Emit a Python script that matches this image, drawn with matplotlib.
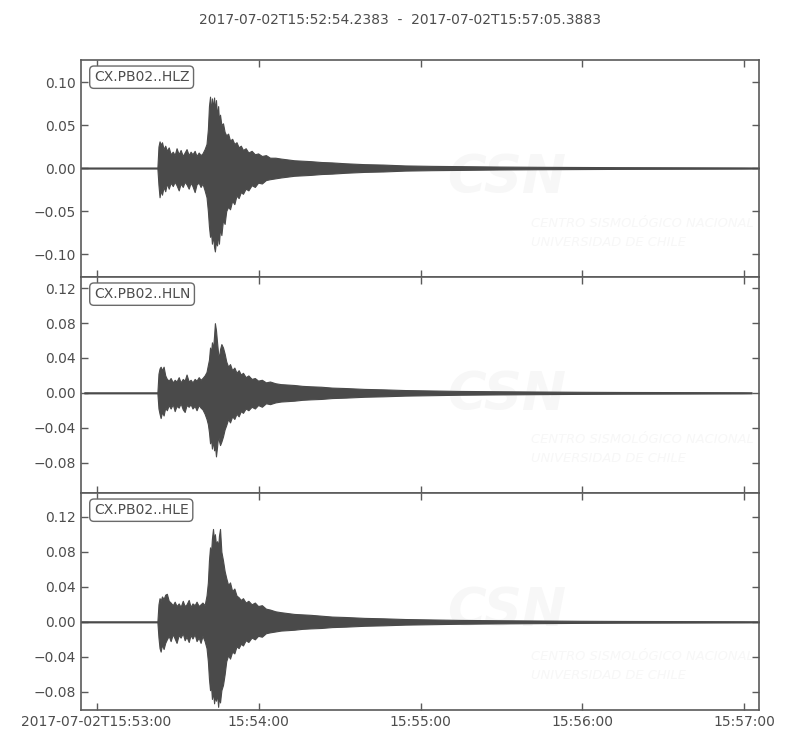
import datetime as dt
import numpy as np
import matplotlib
matplotlib.use("Agg")
import matplotlib.pyplot as plt

# ---------------- data ----------------
title_text = "2017-07-02T15:52:54.2383  -  2017-07-02T15:57:05.3883"
start_time = dt.datetime(2017, 7, 2, 15, 52, 54, 238300)
end_time = dt.datetime(2017, 7, 2, 15, 57, 5, 388300)

trace_labels = ["CX.PB02..HLZ", "CX.PB02..HLN", "CX.PB02..HLE"]

tick_clock = [(15, 53, 0), (15, 54, 0), (15, 55, 0), (15, 56, 0), (15, 57, 0)]
tick_labels = ["2017-07-02T15:53:00", "15:54:00", "15:55:00", "15:56:00", "15:57:00"]

# envelope node times (seconds after start)
t_nodes = [0.0, 28.3,
           28.7, 29.1, 29.5, 30.0, 30.6, 31.2, 31.8, 32.5, 33.2, 34.0, 34.7, 35.4, 36.2, 36.9,
           37.7, 38.4, 39.1, 39.9, 40.6, 41.3, 42.1, 42.8, 43.6, 44.3, 45.0, 45.8, 46.5,
           47.0, 47.4, 47.8, 48.1, 48.5, 48.9, 49.3, 49.6, 50.0, 50.4, 50.8, 51.1, 51.5, 52.0, 52.6, 53.2,
           53.8, 54.5, 55.2, 56.0, 56.8, 57.6, 58.4, 59.2, 60.0, 61.0, 62.0, 63.2, 64.4, 65.6, 67.0, 68.5, 70.0,
           72.0, 74.0, 76.5, 79.0, 82.0, 85.0, 89.0, 93.0, 98.0, 105.0, 112.0, 120.0, 130.0, 140.0, 155.0,
           170.0, 185.0, 200.0, 215.0, 230.0, 245.0, 251.1]

# HLZ
z_upper = [0.0006, 0.0006,
           0.025, 0.031, 0.027, 0.030, 0.022, 0.026, 0.020, 0.024, 0.016, 0.019, 0.015, 0.023, 0.016, 0.021,
           0.014, 0.018, 0.022, 0.015, 0.019, 0.016, 0.020, 0.014, 0.018, 0.015, 0.017, 0.022, 0.028,
           0.045, 0.072, 0.083, 0.064, 0.081, 0.070, 0.082, 0.066, 0.079, 0.060, 0.072, 0.055, 0.062, 0.050, 0.052, 0.042,
           0.038, 0.040, 0.032, 0.034, 0.028, 0.030, 0.024, 0.026, 0.021, 0.023, 0.018, 0.020, 0.016, 0.017, 0.014, 0.015, 0.012,
           0.012, 0.011, 0.010, 0.009, 0.0085, 0.008, 0.007, 0.0065, 0.0055, 0.0045, 0.004, 0.003, 0.0025, 0.0022, 0.0017,
           0.0014, 0.0012, 0.001, 0.0009, 0.0008, 0.0007, 0.0006]
z_lower = [-0.0006, -0.0006,
           -0.020, -0.034, -0.026, -0.031, -0.022, -0.027, -0.018, -0.024, -0.017, -0.021, -0.016, -0.020, -0.026, -0.018,
           -0.022, -0.016, -0.019, -0.024, -0.017, -0.021, -0.028, -0.019, -0.017, -0.022, -0.018, -0.026, -0.034,
           -0.050, -0.068, -0.080, -0.072, -0.088, -0.078, -0.092, -0.097, -0.085, -0.090, -0.075, -0.088, -0.070, -0.078, -0.060, -0.065,
           -0.050, -0.045, -0.048, -0.038, -0.042, -0.032, -0.035, -0.028, -0.030, -0.024, -0.026, -0.020, -0.022, -0.017, -0.018, -0.014, -0.013,
           -0.012, -0.011, -0.010, -0.009, -0.0085, -0.008, -0.007, -0.0065, -0.0055, -0.0045, -0.004, -0.003, -0.0025, -0.0022, -0.0017,
           -0.0014, -0.0012, -0.001, -0.0009, -0.0008, -0.0007, -0.0006]

# HLN
n_start, n_end = 1.2, 248.4
n_upper = [0.0006, 0.0006,
           0.022, 0.028, 0.030, 0.026, 0.030, 0.020, 0.016, 0.014, 0.017, 0.012, 0.015, 0.013, 0.018, 0.012,
           0.016, 0.014, 0.021, 0.013, 0.015, 0.012, 0.016, 0.014, 0.018, 0.015, 0.017, 0.020, 0.024,
           0.032, 0.038, 0.052, 0.044, 0.058, 0.050, 0.066, 0.080, 0.072, 0.058, 0.045, 0.040, 0.050, 0.056, 0.052, 0.045,
           0.036, 0.030, 0.033, 0.026, 0.029, 0.023, 0.026, 0.021, 0.023, 0.018, 0.020, 0.016, 0.017, 0.014, 0.015, 0.012, 0.013,
           0.011, 0.010, 0.0095, 0.009, 0.008, 0.0075, 0.007, 0.006, 0.0055, 0.0045, 0.004, 0.0032, 0.0027, 0.0022, 0.0018,
           0.0015, 0.0012, 0.001, 0.0009, 0.0008, 0.0007, 0.0006]
n_lower = [-0.0006, -0.0006,
           -0.018, -0.024, -0.029, -0.022, -0.026, -0.017, -0.020, -0.014, -0.018, -0.013, -0.021, -0.015, -0.017, -0.012,
           -0.019, -0.022, -0.014, -0.016, -0.013, -0.018, -0.015, -0.020, -0.014, -0.017, -0.019, -0.024, -0.030,
           -0.036, -0.045, -0.058, -0.050, -0.064, -0.055, -0.066, -0.060, -0.073, -0.062, -0.048, -0.055, -0.060, -0.056, -0.050, -0.042,
           -0.037, -0.030, -0.034, -0.027, -0.030, -0.024, -0.027, -0.021, -0.023, -0.018, -0.020, -0.016, -0.018, -0.014, -0.016, -0.012, -0.013,
           -0.011, -0.010, -0.0095, -0.009, -0.008, -0.0075, -0.007, -0.006, -0.0055, -0.0045, -0.004, -0.0032, -0.0027, -0.0022, -0.0018,
           -0.0015, -0.0012, -0.001, -0.0009, -0.0008, -0.0007, -0.0006]

# HLE
e_upper = [0.0006, 0.0006,
           0.020, 0.027, 0.024, 0.029, 0.026, 0.031, 0.032, 0.024, 0.022, 0.019, 0.023, 0.018, 0.021, 0.017,
           0.024, 0.018, 0.020, 0.025, 0.017, 0.021, 0.019, 0.023, 0.018, 0.020, 0.022, 0.019, 0.030,
           0.045, 0.070, 0.085, 0.075, 0.095, 0.106, 0.092, 0.100, 0.088, 0.092, 0.085, 0.098, 0.106, 0.080, 0.070, 0.058,
           0.050, 0.042, 0.045, 0.035, 0.038, 0.030, 0.028, 0.025, 0.027, 0.022, 0.024, 0.020, 0.022, 0.018, 0.019, 0.015, 0.014,
           0.012, 0.011, 0.010, 0.009, 0.0085, 0.008, 0.007, 0.006, 0.0055, 0.0045, 0.004, 0.0032, 0.0027, 0.0022, 0.0018,
           0.0015, 0.0012, 0.001, 0.0009, 0.0008, 0.0007, 0.0006]
e_lower = [-0.0006, -0.0006,
           -0.018, -0.030, -0.034, -0.026, -0.031, -0.024, -0.020, -0.016, -0.022, -0.014, -0.019, -0.024, -0.015, -0.018,
           -0.013, -0.021, -0.017, -0.023, -0.015, -0.019, -0.014, -0.022, -0.018, -0.024, -0.016, -0.022, -0.030,
           -0.045, -0.065, -0.078, -0.070, -0.088, -0.080, -0.093, -0.085, -0.090, -0.082, -0.097, -0.086, -0.092, -0.078, -0.072, -0.060,
           -0.045, -0.038, -0.042, -0.034, -0.036, -0.028, -0.030, -0.025, -0.027, -0.021, -0.023, -0.018, -0.020, -0.016, -0.017, -0.013, -0.012,
           -0.011, -0.010, -0.0095, -0.009, -0.008, -0.0075, -0.007, -0.006, -0.0055, -0.0045, -0.004, -0.0032, -0.0027, -0.0022, -0.0018,
           -0.0015, -0.0012, -0.001, -0.0009, -0.0008, -0.0007, -0.0006]

y_limits = [(-0.1267, 0.1256), (-0.115, 0.133), (-0.1006, 0.147)]
y_ticks = [[-0.10, -0.05, 0.00, 0.05, 0.10],
           [-0.08, -0.04, 0.00, 0.04, 0.08, 0.12],
           [-0.08, -0.04, 0.00, 0.04, 0.08, 0.12]]

# ---------------- figure ----------------
TXT = "#4d4d4d"
WAVE = "#4a4a4a"
SPINE = "#5a5a5a"
WM = "#f7f7f7"

plt.rcParams["font.family"] = ["DejaVu Sans"]
plt.rcParams["font.size"] = 10

fig = plt.figure(figsize=(8, 7.5), dpi=100)
fig.text(0.5, 1 - 20 / 750, title_text, ha="center", va="center", color=TXT, fontsize=10)

W, H = 800.0, 750.0
left, right = 81, 759
rows = [(60, 277), (277, 493), (493, 710)]

t_arr = np.array(t_nodes)
t_n = np.array([n_start] + t_nodes[1:-1] + [n_end])
traces = [(t_arr, z_upper, z_lower), (t_n, n_upper, n_lower), (t_arr, e_upper, e_lower)]

duration = (end_time - start_time).total_seconds()
tick_pos = [(dt.datetime(2017, 7, 2, h, m, s) - start_time).total_seconds() for h, m, s in tick_clock]

axes = []
for i, (top, bot) in enumerate(rows):
    ax = fig.add_axes([left / W, 1 - bot / H, (right - left) / W, (bot - top) / H],
                      sharex=axes[0] if axes else None)
    axes.append(ax)
    tt, up, lo = traces[i]
    # faint watermark
    ax.text(0.628, 0.455, "CSN", transform=ax.transAxes, ha="center", va="center",
            fontsize=38, fontweight="bold", style="italic", color=WM, zorder=0, clip_on=True)
    ax.text(0.664, 0.205, "CENTRO SISMOLÓGICO NACIONAL\nUNIVERSIDAD DE CHILE",
            transform=ax.transAxes, ha="left", va="center", fontsize=9.4, style="italic",
            color=WM, linespacing=1.6, zorder=0, clip_on=True)
    ax.fill_between(tt, lo, up, color=WAVE, lw=0.8, edgecolor=WAVE, zorder=2)
    ax.set_xlim(0, duration)
    ax.set_ylim(*y_limits[i])
    ax.set_yticks(y_ticks[i])
    ax.yaxis.set_major_formatter(matplotlib.ticker.FuncFormatter(
        lambda v, p: ("%.2f" % v).replace("-", "\u2212") if abs(v) > 1e-9 else "0.00"))
    ax.set_xticks(tick_pos)
    ax.tick_params(direction="in", length=5, width=1, colors=SPINE, labelcolor=TXT,
                   top=True, right=True, labelsize=10)
    for sp in ax.spines.values():
        sp.set_color(SPINE)
        sp.set_linewidth(1.2)
    if i < 2:
        ax.tick_params(labelbottom=False)
    else:
        ax.set_xticklabels(tick_labels)
    ax.text(0.019, 0.953, trace_labels[i], transform=ax.transAxes, ha="left", va="top",
            color=TXT, fontsize=10, zorder=5,
            bbox=dict(boxstyle="round,pad=0.3", fc="white", ec="#6a6a6a", lw=1.0))

fig.savefig("out.png", dpi=100)
